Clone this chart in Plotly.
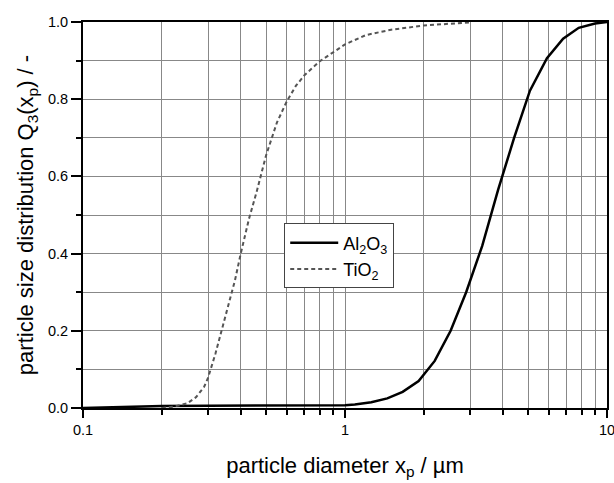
import plotly.graph_objects as go

# Al2O3 cumulative distribution
al_x = [0.1, 0.15, 0.2, 0.3, 0.5, 0.8, 1.0, 1.09, 1.26, 1.45, 1.66, 1.91, 2.2, 2.53, 2.9,
        3.34, 3.84, 4.42, 5.08, 5.9, 6.8, 7.8, 9.0, 10.0]
al_y = [0.0, 0.003, 0.005, 0.006, 0.006, 0.006, 0.007, 0.009, 0.015, 0.025, 0.042, 0.07, 0.122,
        0.2, 0.3, 0.42, 0.565, 0.70, 0.822, 0.906, 0.957, 0.985, 0.996, 1.0]

# TiO2 cumulative distribution
ti_x = [0.2, 0.22, 0.25, 0.27, 0.29, 0.3, 0.32, 0.34, 0.36, 0.38, 0.4, 0.43, 0.46, 0.5,
        0.55, 0.6, 0.65, 0.7, 0.8, 0.9, 1.0, 1.2, 1.5, 2.0, 2.5, 3.0]
ti_y = [0.0, 0.003, 0.012, 0.028, 0.055, 0.078, 0.14, 0.205, 0.265, 0.33, 0.40, 0.49, 0.56,
        0.655, 0.74, 0.795, 0.835, 0.862, 0.898, 0.922, 0.942, 0.966, 0.98, 0.991, 0.996, 0.999]

x_ticks = [0.1, 1, 10]
x_ticklabels = ["0.1", "1", "10"]

FONT = "Liberation Sans, Arial, sans-serif"
GRID = "#888888"

fig = go.Figure()
fig.add_trace(go.Scatter(x=al_x, y=al_y, mode="lines", name="Al<sub>2</sub>O<sub>3</sub>",
                         line=dict(color="black", width=2.5)))
fig.add_trace(go.Scatter(x=ti_x, y=ti_y, mode="lines", name="TiO<sub>2</sub>",
                         line=dict(color="#555555", width=2, dash="4px,3px")))

fig.update_layout(
    width=614, height=483,
    margin=dict(l=83, r=7, t=22, b=75),
    paper_bgcolor="white", plot_bgcolor="white",
    font=dict(family=FONT, color="black"),
    showlegend=True,
    legend=dict(x=0.384, y=0.478, xanchor="left", yanchor="top",
                bgcolor="white", bordercolor="#444444", borderwidth=1,
                itemwidth=48, tracegroupgap=0,
                font=dict(size=18, family=FONT, color="black")),
    xaxis=dict(
        type="log", range=[-1, 1], automargin=False, ticklabeloverflow="allow",
        tickvals=x_ticks, ticktext=x_ticklabels,
        ticks="outside", ticklen=8, tickwidth=2, tickcolor="black",
        tickfont=dict(size=14.5),
        showline=True, linewidth=2, linecolor="black", mirror=True,
        showgrid=True, gridcolor=GRID, gridwidth=1,
        minor=dict(tickvals=[0.2, 0.3, 0.4, 0.5, 0.6, 0.7, 0.8, 0.9,
                             2, 3, 4, 5, 6, 7, 8, 9],
                   ticks="outside", ticklen=5, tickwidth=2, tickcolor="black",
                   showgrid=True, gridcolor=GRID, gridwidth=1),
        title=dict(text="particle diameter x<sub>p</sub> / µm", font=dict(size=22), standoff=20),
        zeroline=False,
    ),
    yaxis=dict(
        range=[0, 1], dtick=0.2, tickformat=".1f", automargin=False,
        ticks="outside", ticklen=10, tickwidth=2, tickcolor="black",
        tickfont=dict(size=14.5),
        showline=True, linewidth=2, linecolor="black", mirror=True,
        showgrid=True, gridcolor=GRID, gridwidth=1,
        minor=dict(dtick=0.1, ticks="outside", ticklen=5, tickwidth=2, tickcolor="black",
                   showgrid=True, gridcolor=GRID, gridwidth=1),
        title=dict(text="particle size distribution Q<sub>3</sub>(x<sub>p</sub>) / -",
                   font=dict(size=22), standoff=8),
        zeroline=False,
    ),
)

fig.write_html("out.html")
